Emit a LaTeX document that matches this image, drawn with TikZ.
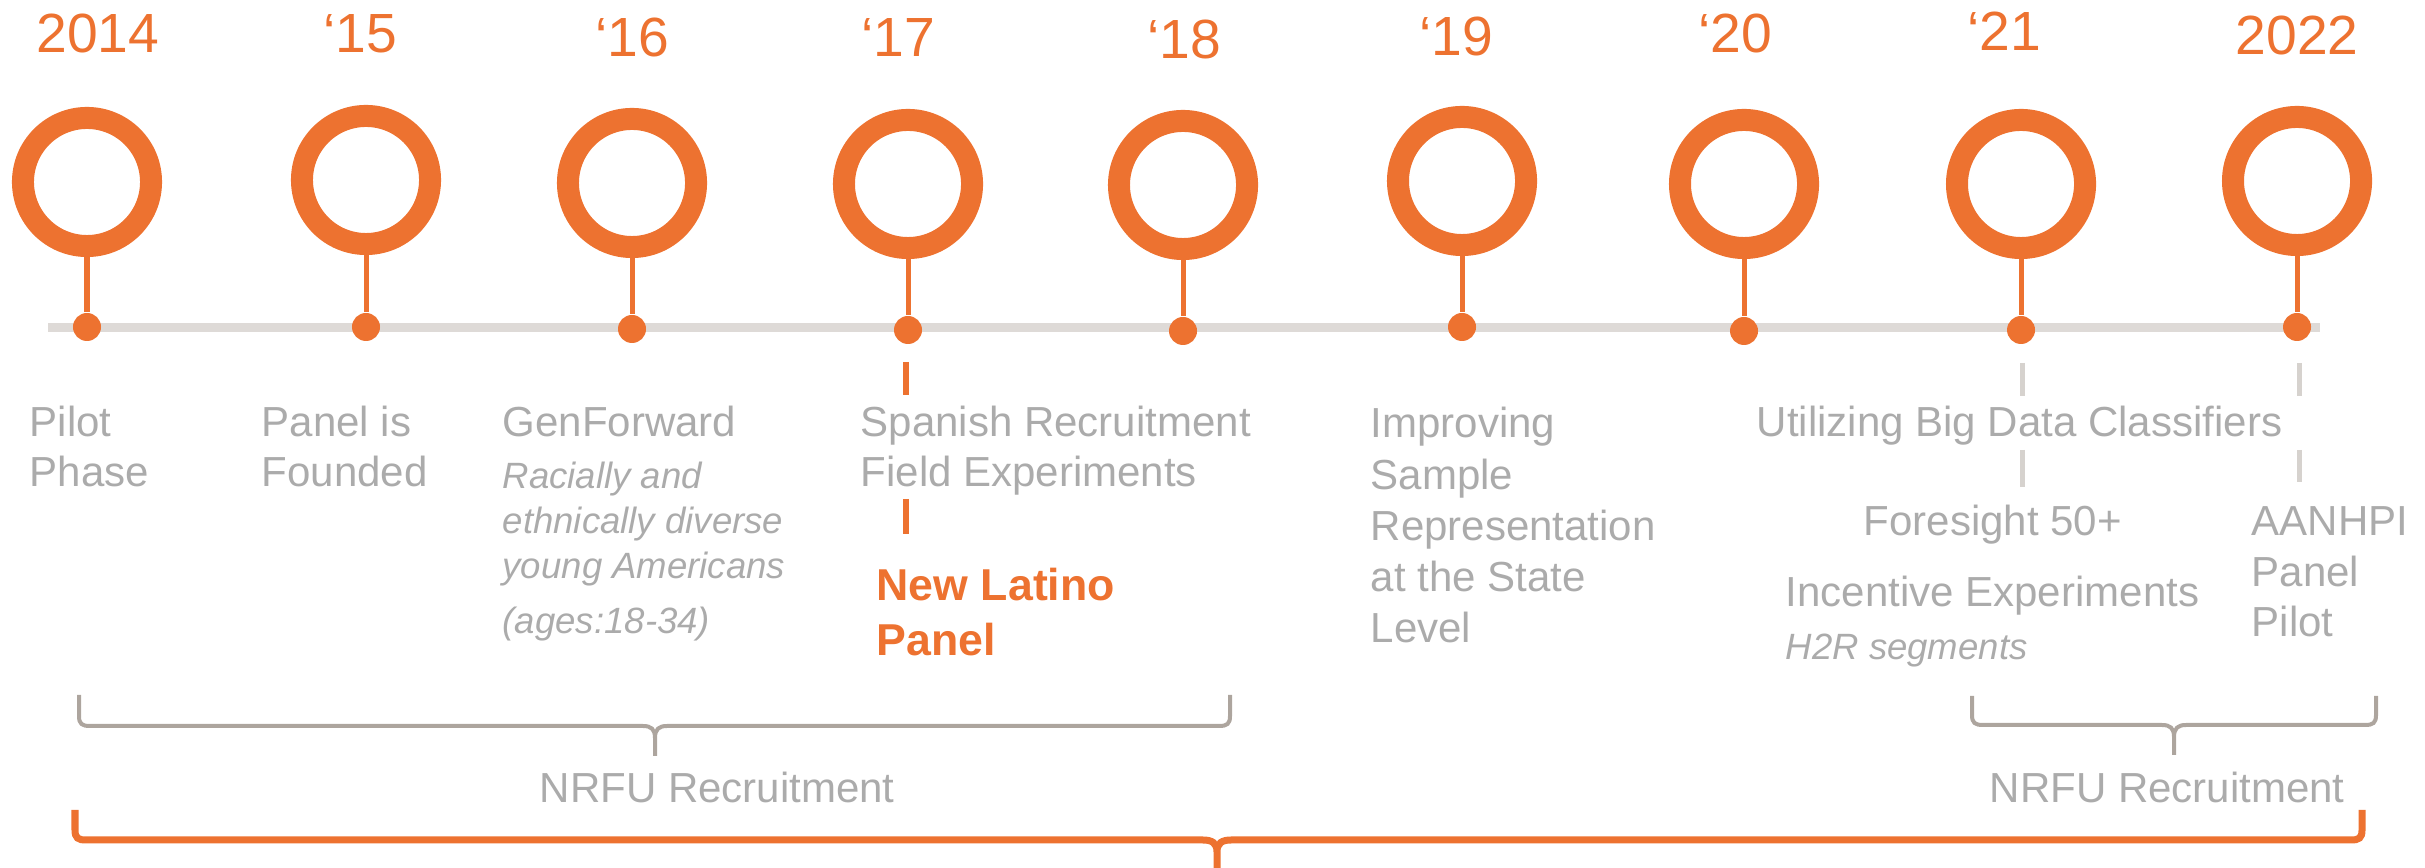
\documentclass[tikz,border=0pt]{standalone}
\usepackage{fontspec}
\setmainfont{Liberation Sans}
\definecolor{tlorange}{HTML}{ED7230}
\definecolor{txtgray}{HTML}{ABABAB}
\definecolor{linegray}{HTML}{DEDAD7}
\definecolor{bracegray}{HTML}{ADA59E}
\definecolor{dashgray}{HTML}{D6D2CE}
\begin{document}
\begin{tikzpicture}[x=0.01cm,y=-0.01cm,
  ring/.style={circle, draw=tlorange, line width=0.22cm, minimum size=1.28cm, inner sep=0pt},
  dot/.style={circle, fill=tlorange, minimum size=0.28cm, inner sep=0pt},
  stem/.style={draw=tlorange, line width=0.05cm},
  year/.style={font=\fontsize{15.7}{18}\selectfont, text=tlorange, anchor=base, inner sep=0pt},
  body/.style={font=\fontsize{11.95}{14}\selectfont, text=txtgray, anchor=base west, inner sep=0pt},
  note/.style={font=\fontsize{10.4}{12}\selectfont\itshape, text=txtgray, anchor=base west, inner sep=0pt},
  hl/.style={font=\fontsize{12.7}{15}\selectfont\bfseries, text=tlorange, anchor=base west, inner sep=0pt},
  odash/.style={draw=tlorange, line width=0.055cm},
  gdash/.style={draw=dashgray, line width=0.05cm},
  gbrace/.style={draw=bracegray, line width=0.04cm},
  obrace/.style={draw=tlorange, line width=0.07cm}]
\useasboundingbox (0,0) rectangle (2425,868);

% axis
\coordinate (axl) at (48,328);
\coordinate (axr) at (2320,328);
\draw[linegray, line width=0.09cm] (axl) -- (axr);

% milestones
\foreach \i/\x/\cy/\dy/\yr/\yx/\yb in {
  1/87/182/327/2014/98/53,
  2/366/180/327/‘15/360/53,
  3/632/183/329/‘16/632/57,
  4/908/184/330/‘17/898/57,
  5/1183/185/331/‘18/1184/59,
  6/1462/181/327/‘19/1456/56,
  7/1744/184/331/‘20/1735/53,
  8/2021/184/330/‘21/2004/51,
  9/2297/181/327/2022/2297/55}{
  \node[ring] (c\i) at (\x,\cy) {};
  \node[dot] (d\i) at (\x,\dy) {};
  \draw[stem] (c\i.south) -- (d\i.north);
  \node[year] (y\i) at (\yx,\yb) {\yr};
}

% dashes
\coordinate (oa1) at (906,362); \coordinate (oa2) at (906,395);
\coordinate (ob1) at (906,499); \coordinate (ob2) at (906,534);
\draw[odash] (oa1) -- (oa2);
\draw[odash] (ob1) -- (ob2);
\coordinate (ga1) at (2022,363); \coordinate (ga2) at (2022,396);
\coordinate (gb1) at (2022,450); \coordinate (gb2) at (2022,487);
\coordinate (ha1) at (2299,363); \coordinate (ha2) at (2299,396);
\coordinate (hb1) at (2299,450); \coordinate (hb2) at (2299,482);
\draw[gdash] (ga1) -- (ga2);
\draw[gdash] (gb1) -- (gb2);
\draw[gdash] (ha1) -- (ha2);
\draw[gdash] (hb1) -- (hb2);

% texts
\node[body] (t1a) at (29,437) {Pilot};
\node[body] (t1b) at (29,487) {Phase};
\node[body] (t2a) at (261,437) {Panel is};
\node[body] (t2b) at (261,487) {Founded};
\node[body] (t3a) at (502,437) {GenForward};
\node[note] (t3b) at (502,489) {Racially and};
\node[note] (t3c) at (502,534) {ethnically diverse};
\node[note] (t3d) at (502,579) {young Americans};
\node[note] (t3e) at (502,634) {(ages:18-34)};
\node[body] (t4a) at (860,437) {Spanish Recruitment};
\node[body] (t4b) at (860,487) {Field Experiments};
\node[hl] (t4c) at (876,601) {New Latino};
\node[hl] (t4d) at (876,656) {Panel};
\node[body] (t6a) at (1370,438) {Improving};
\node[body] (t6b) at (1370,490) {Sample};
\node[body] (t6c) at (1370,541) {Representation};
\node[body] (t6d) at (1370,592) {at the State};
\node[body] (t6e) at (1370,643) {Level};
\node[body] (t8a) at (1756,437) {Utilizing Big Data Classifiers};
\node[body] (t8b) at (1863,536) {Foresight 50+};
\node[body] (t8c) at (1785,607) {Incentive Experiments};
\node[note] (t8d) at (1785,660) {H2R segments};
\node[body] (t9a) at (2251,536) {AANHPI};
\node[body] (t9b) at (2251,587) {Panel};
\node[body] (t9c) at (2251,637) {Pilot};
\node[body] (n1) at (539,803) {NRFU Recruitment};
\node[body] (n2) at (1989,803) {NRFU Recruitment};

% left gray brace
\draw[gbrace] (79,695) -- (79,716) .. controls (79,724) and (82,726) .. (90,726)
  -- (643,726) .. controls (651,726) and (655,729) .. (655,738) -- (655,756)
  (655,738) .. controls (655,729) and (659,726) .. (667,726)
  -- (1219,726) .. controls (1227,726) and (1230,724) .. (1230,716) -- (1230,695);
% right gray brace
\draw[gbrace] (1972,696) -- (1972,715) .. controls (1972,723) and (1975,725) .. (1983,725)
  -- (2162,725) .. controls (2170,725) and (2174,728) .. (2174,737) -- (2174,755)
  (2174,737) .. controls (2174,728) and (2178,725) .. (2186,725)
  -- (2365,725) .. controls (2373,725) and (2376,723) .. (2376,715) -- (2376,696);
% orange brace
\draw[obrace] (75,810) -- (75,830) .. controls (75,838) and (78,840) .. (86,840)
  -- (1203,840) .. controls (1212,840) and (1217,843) .. (1217,852) -- (1217,872)
  (1217,852) .. controls (1217,843) and (1222,840) .. (1231,840)
  -- (2351,840) .. controls (2359,840) and (2362,838) .. (2362,830) -- (2362,810);
\end{tikzpicture}
\end{document}
